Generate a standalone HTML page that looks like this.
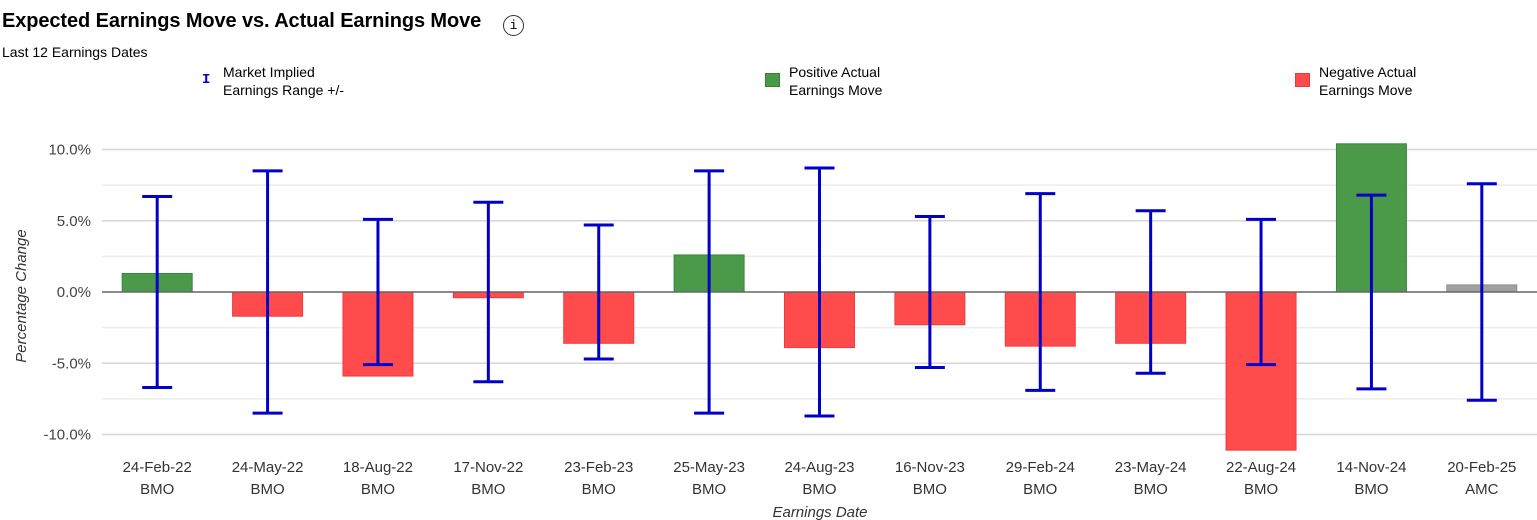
<!DOCTYPE html>
<html><head><meta charset="utf-8"><style>
body{margin:0;background:#fff;font-family:"Liberation Sans",sans-serif;}
#wrap{position:relative;width:1537px;height:520px;overflow:hidden;}
.t{position:absolute;color:#000;}
</style></head><body>
<div id="wrap">
<div class="t" style="left:2px;top:10px;font-size:20px;font-weight:bold;letter-spacing:-0.1px">Expected Earnings Move vs. Actual Earnings Move</div>
<div style="position:absolute;left:503px;top:15px;width:19px;height:19px;border:1.5px solid #333;border-radius:50%;font-size:13px;text-align:center;line-height:19px;font-family:'Liberation Mono',monospace">i</div>
<div class="t" style="left:2px;top:44px;font-size:14px">Last 12 Earnings Dates</div>
<div class="t" style="left:200px;top:63px;font-size:14px;line-height:18px"><span style="position:absolute;left:2px;top:8px;color:#0000cc;font-weight:bold;font-family:'Liberation Mono',monospace">I</span><span style="position:absolute;left:23px;white-space:nowrap">Market Implied<br>Earnings Range +/-</span></div>
<div class="t" style="left:765px;top:63px;font-size:14px;line-height:18px"><span style="position:absolute;left:0;top:10px;width:13px;height:12px;background:#4a9a4a;border:1px solid #3a803a"></span><span style="position:absolute;left:24px;white-space:nowrap">Positive Actual<br>Earnings Move</span></div>
<div class="t" style="left:1295px;top:63px;font-size:14px;line-height:18px"><span style="position:absolute;left:0;top:10px;width:13px;height:12px;background:#ff4b4b;border:1px solid #e03a3a"></span><span style="position:absolute;left:24px;white-space:nowrap">Negative Actual<br>Earnings Move</span></div>
<svg id="chart" width="1537" height="520" style="position:absolute;left:0;top:0"></svg>
</div>
<script>
const categories=["24-Feb-22","24-May-22","18-Aug-22","17-Nov-22","23-Feb-23","25-May-23","24-Aug-23","16-Nov-23","29-Feb-24","23-May-24","22-Aug-24","14-Nov-24","20-Feb-25"];
const sessions=["BMO","BMO","BMO","BMO","BMO","BMO","BMO","BMO","BMO","BMO","BMO","BMO","AMC"];
const actualMoves=[1.3,-1.7,-5.9,-0.4,-3.6,2.6,-3.9,-2.3,-3.8,-3.6,-11.1,10.4,0.5];
const impliedRanges=[6.7,8.5,5.1,6.3,4.7,8.5,8.7,5.3,6.9,5.7,5.1,6.8,7.6];
const majorTicks=[10,5,0,-5,-10];
const minorTicks=[7.5,2.5,-2.5,-7.5];
const tickLabels=["10.0%","5.0%","0.0%","-5.0%","-10.0%"];

const NS="http://www.w3.org/2000/svg";
const svg=document.getElementById('chart');
const x0=102,x1=1537,y0=292,pxPer=14.25;
const band=(x1-x0)/categories.length;
const xC=i=>x0+band*(i+0.5);
const y=v=>y0-v*pxPer;
function mk(tag,a){const e=document.createElementNS(NS,tag);for(const k in a)e.setAttribute(k,a[k]);svg.appendChild(e);return e;}
minorTicks.forEach(v=>{const l=mk('line',{x1:x0,x2:x1,y1:y(v),y2:y(v),stroke:'#ececec','stroke-width':1.5});

});
majorTicks.forEach((v,i)=>{if(v!==0){const l=mk('line',{x1:x0,x2:x1,y1:y(v),y2:y(v),stroke:'#d6d6d6','stroke-width':1.5});

}
const t=mk('text',{x:91,y:y(v)+5,'text-anchor':'end','font-size':15,fill:'#444','font-family':'Liberation Sans'});t.textContent=tickLabels[i];

});
actualMoves.forEach((v,i)=>{
const col=i===12?'#a0a0a0':(v>=0?'#4a9a4a':'#ff4b4b');const st=i===12?'#909090':(v>=0?'#3a853a':'#ee3c3c');
const r=mk('rect',{x:xC(i)-35,y:Math.min(y(v),y0),width:70,height:Math.abs(v)*pxPer,fill:col,stroke:st,'stroke-width':1});

});
const z=mk('line',{x1:x0,x2:x1,y1:y0,y2:y0,stroke:'#666','stroke-width':1.5});


impliedRanges.forEach((r,i)=>{const c=xC(i);
const g=document.createElementNS(NS,'g');svg.appendChild(g);


[[c,y(r),c,y(-r)],[c-15,y(r),c+15,y(r)],[c-15,y(-r),c+15,y(-r)]].forEach(p=>{const l=document.createElementNS(NS,'line');
l.setAttribute('x1',p[0]);l.setAttribute('y1',p[1]);l.setAttribute('x2',p[2]);l.setAttribute('y2',p[3]);l.setAttribute('stroke','#0000c8');l.setAttribute('stroke-width',3);g.appendChild(l);});
const t=mk('text',{x:c,y:472,'text-anchor':'middle','font-size':15,fill:'#333','font-family':'Liberation Sans'});t.textContent=categories[i];


const t2=mk('text',{x:c,y:494,'text-anchor':'middle','font-size':15,fill:'#333','font-family':'Liberation Sans'});t2.textContent=sessions[i];

});
const yt=mk('text',{x:0,y:0,transform:'translate(26,296) rotate(-90)','text-anchor':'middle','font-size':15,'font-style':'italic',fill:'#333','font-family':'Liberation Sans'});yt.textContent='Percentage Change';


const xt=mk('text',{x:820,y:517,'text-anchor':'middle','font-size':15,'font-style':'italic',fill:'#333','font-family':'Liberation Sans'});xt.textContent='Earnings Date';


</script>
</body></html>
